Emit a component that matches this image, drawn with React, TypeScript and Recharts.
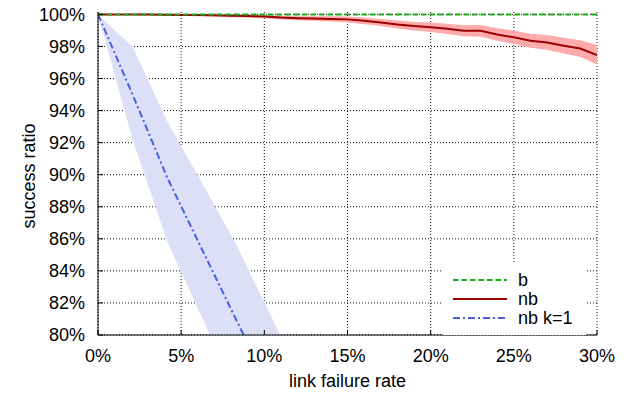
import React from 'react';
import { ComposedChart, Line, Area, XAxis, YAxis, CartesianGrid, Legend } from 'recharts';

const nbX = [0, 1, 2, 3, 4, 5, 6, 7, 8, 9, 10, 11, 12, 13, 14, 15, 16, 17, 18, 19, 20, 21, 22, 23, 24, 25, 26, 27, 28, 29, 30];
const nbMean = [100, 100, 100, 99.99, 99.98, 99.97, 99.96, 99.94, 99.92, 99.9, 99.87, 99.8, 99.76, 99.74, 99.72, 99.69, 99.6, 99.5, 99.37, 99.27, 99.2, 99.1, 98.98, 98.98, 98.75, 98.57, 98.36, 98.25, 98.05, 97.87, 97.47];
const nbLow = [100, 99.98, 99.97, 99.95, 99.93, 99.91, 99.89, 99.86, 99.83, 99.8, 99.76, 99.68, 99.63, 99.59, 99.55, 99.5, 99.39, 99.27, 99.12, 99.0, 98.9, 98.78, 98.63, 98.61, 98.36, 98.15, 97.92, 97.79, 97.56, 97.35, 96.88];
const nbHigh = [100, 100, 100, 100, 100, 100, 100, 100, 100, 99.99, 99.97, 99.92, 99.89, 99.88, 99.88, 99.87, 99.8, 99.72, 99.62, 99.53, 99.5, 99.41, 99.32, 99.34, 99.14, 98.99, 98.8, 98.71, 98.54, 98.39, 98.09];

const k1X = [0, 2.08, 4.17, 6.25, 8.33, 10.42, 12.5];
const k1Mean = [100, 95.0, 89.8, 85.35, 80.9, 76.5, 72.0];
const k1Low = [100, 92.2, 85.8, 81.1, 76.4, 72.0, 67.6];
const k1High = [100, 97.98, 93.3, 89.5, 85.6, 81.15, 76.7];

const bX = [0, 30];
const bValues = [100, 100];

const xTicks = [0, 5, 10, 15, 20, 25, 30];
const yTicks = [80, 82, 84, 86, 88, 90, 92, 94, 96, 98, 100];

const seriesNames = ['b', 'nb', 'nb k=1'];

const GREEN = '#1daa1d';
const RED = '#9a0000';
const BLUE = '#4a5ee0';
const PINK = '#ffabab';
const LAVENDER = '#dcdff5';
const FONT = '"Liberation Sans", Arial, Helvetica, sans-serif';
const FS = 18;

const nbData = nbX.map((x, i) => ({ x, mean: nbMean[i], range: [nbLow[i], nbHigh[i]] }));
const k1Data = k1X.map((x, i) => ({ x, mean: k1Mean[i], range: [k1Low[i], k1High[i]] }));
const bData = bX.map((x, i) => ({ x, value: bValues[i] }));

const legendStyles = [
  { stroke: GREEN, dash: '5.5 3' },
  { stroke: RED, dash: undefined },
  { stroke: BLUE, dash: '7 3 2 3' },
];

const renderLegend = () => (
  <svg width={143} height={73} style={{ display: 'block' }}>
    <rect x={0} y={0} width={143} height={73} fill="#ffffff" />
    {seriesNames.map((name, i) => {
      const y = 18 + i * 19;
      return (
        <g key={name}>
          <line x1={10} x2={64} y1={y} y2={y} stroke={legendStyles[i].stroke} strokeWidth={2} strokeDasharray={legendStyles[i].dash} />
          <text x={75} y={y} dy="0.36em" fontSize={FS} fontFamily={FONT} fill="#000">{name}</text>
        </g>
      );
    })}
  </svg>
);

const YLabel = () => {
  const cy = 176;
  const cx = 29;
  return (
    <text x={cx} y={cy} transform={`rotate(-90, ${cx}, ${cy})`} textAnchor="middle" dominantBaseline="central" fontSize={FS} fontFamily={FONT} fill="#000">
      success ratio
    </text>
  );
};

const XLabel = (props: any) => {
  const vb = props.viewBox || {};
  const cx = (vb.x ?? 0) + (vb.width ?? 0) / 2;
  return (
    <text x={cx} y={381} textAnchor="middle" dominantBaseline="central" fontSize={FS} fontFamily={FONT} fill="#000">
      link failure rate
    </text>
  );
};

export default function App() {
  return (
    <div style={{ marginLeft: -8, marginTop: -8, width: 626, height: 395, background: '#fff', position: 'relative' }}>
      <ComposedChart width={626} height={395} margin={{ top: 12, right: 29, left: 0, bottom: 0 }}>
        <CartesianGrid stroke="#111" strokeDasharray="1 2" strokeWidth={1} horizontalValues={yTicks} verticalValues={xTicks} />
        <XAxis
          dataKey="x"
          type="number"
          domain={[0, 30]}
          ticks={xTicks}
          allowDataOverflow
          tickFormatter={(v: number) => `${v}%`}
          height={60}
          tickSize={-5}
          tickMargin={19}
          stroke="#000"
          tick={{ fill: '#000', fontSize: FS, fontFamily: FONT }}
          label={<XLabel />}
        />
        <YAxis
          type="number"
          domain={[80, 100.15]}
          ticks={yTicks}
          allowDataOverflow
          tickFormatter={(v: number) => `${v}%`}
          width={98}
          tickSize={-5}
          tickMargin={18}
          stroke="#000"
          tick={{ fill: '#000', fontSize: FS, fontFamily: FONT }}
          label={<YLabel />}
        />
        <Area data={k1Data} dataKey="range" type="linear" stroke="none" fill={LAVENDER} fillOpacity={1} isAnimationActive={false} legendType="none" />
        <Area data={nbData} dataKey="range" type="linear" stroke="none" fill={PINK} fillOpacity={1} isAnimationActive={false} legendType="none" />
        <Line data={k1Data} dataKey="mean" type="linear" stroke={BLUE} strokeWidth={2} strokeDasharray="7 3 2 3" dot={false} isAnimationActive={false} name="nb k=1" />
        <Line data={nbData} dataKey="mean" type="linear" stroke={RED} strokeWidth={2} dot={false} isAnimationActive={false} name="nb" />
        <Line data={bData} dataKey="value" type="linear" stroke={GREEN} strokeWidth={2} strokeDasharray="5.5 3" dot={false} isAnimationActive={false} name="b" />
        <Legend
          layout="vertical"
          align="center"
          verticalAlign="middle"
          content={renderLegend}
          wrapperStyle={{ position: 'absolute', left: 443, top: 262, width: 143, height: 73 }}
        />
      </ComposedChart>
    </div>
  );
}
